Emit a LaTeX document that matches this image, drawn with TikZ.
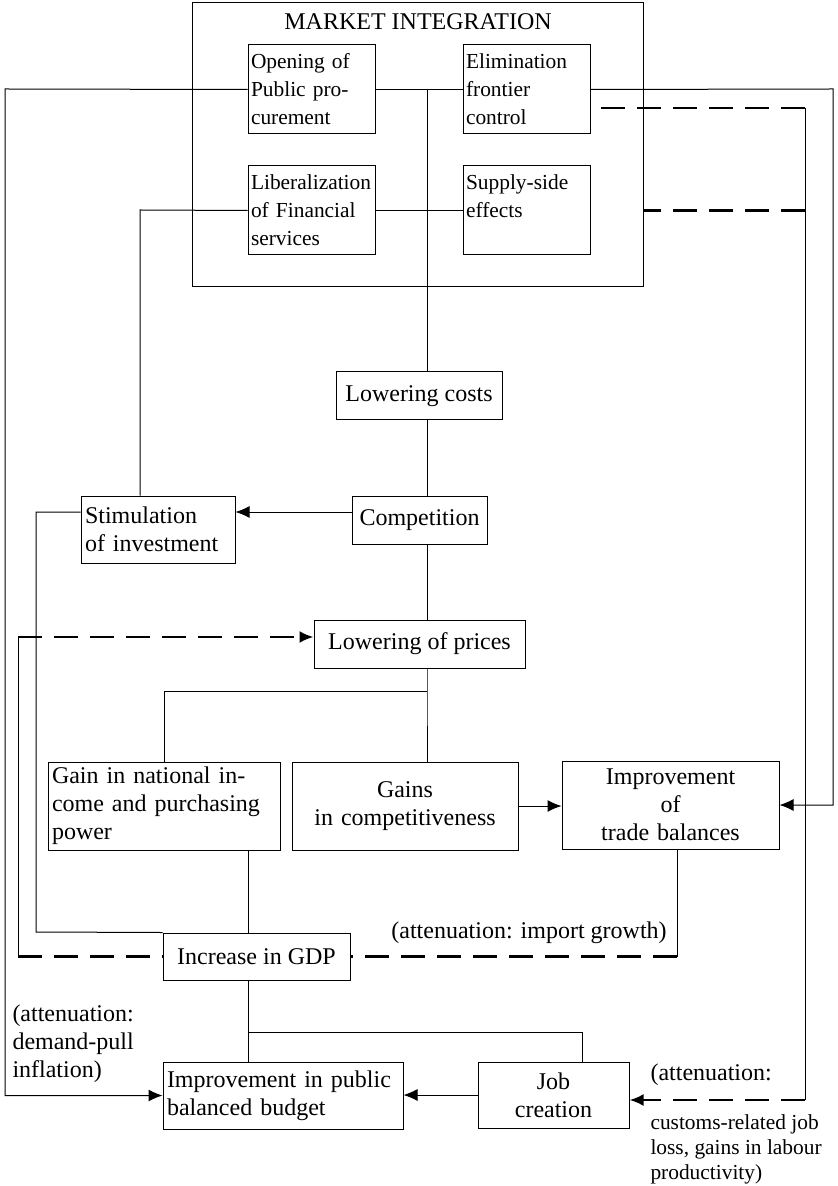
\documentclass[tikz,border=0pt]{standalone}
\usepackage{fontspec}
\setmainfont{Liberation Serif}
\usetikzlibrary{arrows.meta}

\begin{document}
\begin{tikzpicture}[x=0.5pt,y=-0.5pt,line width=0.5pt,font=\fontsize{12}{14}\selectfont,
		>={Latex[length=7pt,width=6pt]},
		box/.style={draw,inner sep=2pt,align=center},
		quad/.style={draw,inner xsep=1.5pt,inner ysep=2pt,text width=60.5pt,minimum height=44.5pt,align=left,font=\fontsize{10.7}{14}\selectfont},
		cut/.style={line width=1.2pt,dash pattern=on 12pt off 6pt}]
		\useasboundingbox (0,0) rectangle (837,1186);
		\node[draw,minimum width=225.5pt,minimum height=142pt] (mi) at (417.5,145) {};
		\node (title) at (418,22) {MARKET INTEGRATION};
		\node[quad] (open) at (311.5,89.5) {Opening of\\Public pro-\\curement};
		\node[quad] (elim) at (526.5,89.5) {Elimination\\frontier\\control};
		\node[quad] (lib) at (311.5,210.5) {Liberalization\\of Financial\\services};
		\node[quad] (supply) at (526.5,210.5) {Supply-side\\effects\\~};
		\node[box,minimum width=83pt,minimum height=24pt] (cost) at (419,396) {Lowering costs};
		\node[box,text width=73pt,align=left,minimum height=33.5pt] (stim) at (158,529.5) {Stimulation\\of investment};
		\node[box,minimum width=67.5pt,minimum height=24pt] (comp) at (419.5,520) {Competition};
		\node[box,minimum width=105.5pt,minimum height=24pt] (prices) at (419.5,644) {Lowering of prices};
		\node[box,text width=112pt,align=left,minimum height=44pt] (income) at (164,806) {Gain in national in-\\come and purchasing\\power};
		\node[box,text width=109pt,minimum height=44pt] (compet) at (405,806) {Gains\\in competitiveness};
		\node[box,text width=104.5pt,minimum height=44pt] (trade) at (670.5,805) {Improvement\\of\\trade balances};
		\node[box,minimum width=93.5pt,minimum height=23.5pt] (gdp) at (256.5,956.5) {Increase in GDP};
		\node[box,text width=116pt,align=left,minimum height=33.5pt] (budget) at (283,1095.5) {Improvement in public\\balanced budget};
		\node[box,text width=71.5pt,minimum height=33pt] (job) at (553.5,1095) {Job\\creation};
		\node[anchor=north west,inner sep=0pt,align=left] (attn1) at (12,1004) {(attenuation:\\demand-pull\\inflation)};
		\node[anchor=base,inner sep=0pt] (attn2) at (529,938) {(attenuation: import growth)};
		\node[anchor=base west,inner sep=0pt] (attn3) at (650,1080) {(attenuation:};
		\node[anchor=north west,inner sep=0pt,align=left,font=\fontsize{10.7}{12.5}\selectfont] (attn4) at (650,1114) {customs-related job\\loss, gains in labour\\productivity)};
		\coordinate (spine) at (427,89);
		\coordinate (fork) at (427,691);
		\coordinate (lk) at (140,210);
		\coordinate (sl) at (36,932);
		\coordinate (gx) at (248,0);
		\coordinate (tx) at (677,0);
		\coordinate (lx) at (5,89);
		\coordinate (rx) at (833,89);
		\coordinate (dx) at (805,108);
		\coordinate (jy) at (805,1100);
		\coordinate (px) at (18,956.5);
		\coordinate (py) at (18,637);
		\coordinate (low) at (248,1032);
		\coordinate (jx) at (582,1032);
		\draw (open.east) -- (elim.west);
		\draw (lib.east) -- (supply.west);
		\draw (spine) -- (cost.north -| spine);
		\draw (cost.south -| spine) -- (comp.north -| spine);
		\draw (comp.south -| spine) -- (prices.north -| spine);
		\draw (prices.south -| spine) -- (fork) -- (compet.north -| spine);
		\draw (fork) -| (income.north);
		\draw (lib.west) -- (lk) -- (lk |- stim.north);
		\draw[->] ([yshift=4pt]comp.west) -- ([yshift=4pt]comp.west -| stim.east);
		\draw ([yshift=8.75pt]stim.west) -| (sl) -- (gdp.north west);
		\draw[->] (compet.east) -- (compet.east -| trade.west);
		\draw (income.south -| gx) -- (gdp.north -| gx);
		\draw (trade.south -| tx) -- (tx |- gdp.east);
		\draw[cut] (tx |- gdp.east) -- (gdp.east);
		\draw[cut] (px) -- (gdp.west);
		\draw (px) -- (py);
		\draw[cut,->] (py) -- (py -| prices.west);
		\draw[->] (open.west) -- (lx) |- (budget.west);
		\draw[->] (elim.east) -- (rx) |- (trade.east);
		\draw[cut] (dx) -- ([yshift=-9.25pt]elim.east);
		\draw[cut] (dx |- supply.east) -- (mi.east |- supply.east);
		\draw (dx) -- (jy);
		\draw[cut,->] (jy) -- (jy -| job.east);
		\draw (gdp.south -| gx) -- (budget.north -| gx);
		\draw (low) -- (jx) -- (jx |- job.north);
		\draw[->] (job.west) -- (job.west -| budget.east);
	\end{tikzpicture}
\end{document}
